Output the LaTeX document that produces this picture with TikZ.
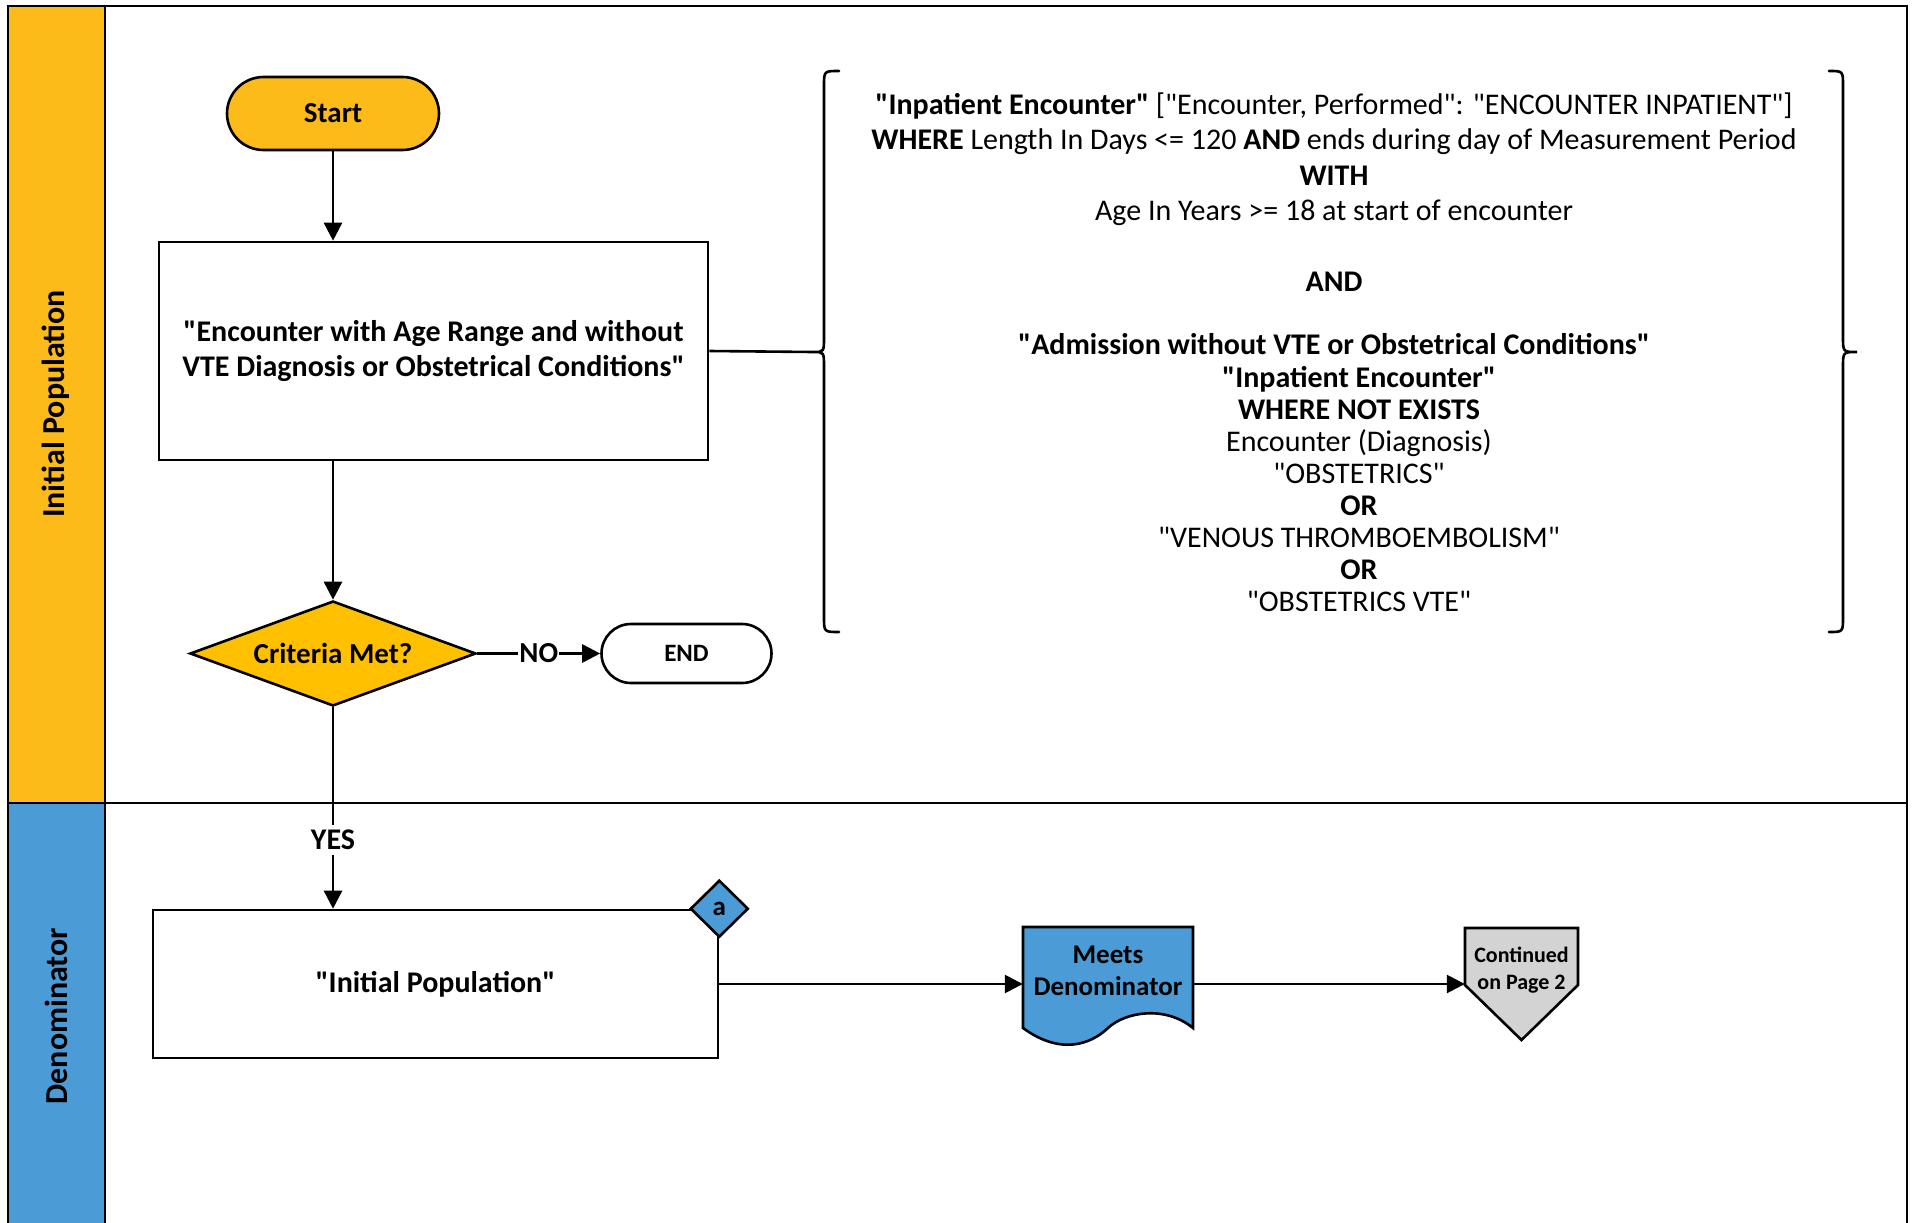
\documentclass[tikz,border=0pt]{standalone}
\usepackage{fontspec}
\setmainfont{Carlito}[Ligatures=TeXOff]
\usetikzlibrary{shapes.geometric,arrows.meta}
\definecolor{laneorange}{HTML}{FDBB19}
\definecolor{decyellow}{HTML}{FFC000}
\definecolor{laneblue}{HTML}{4A9BD6}
\definecolor{pagegray}{HTML}{D3D3D3}
\tikzset{
  flow/.style = {align=center, inner sep=1pt, text centered, font=\fontsize{29}{35.5}\selectfont\bfseries},
  terminal/.style = {flow, draw=black, line width=2.6pt},
  procbox/.style = {flow, rectangle, draw=black, fill=white, line width=2.6pt, font=\fontsize{30}{35.5}\selectfont\bfseries},
  decision/.style = {flow, diamond, aspect=2.72, draw=black, fill=decyellow, line width=2.6pt, inner sep=0pt, minimum width=286, minimum height=105},
  tagnode/.style = {flow, diamond, draw=black, fill=laneblue, line width=2.6pt, inner sep=0pt, minimum width=58, minimum height=57, font=\fontsize{27}{30}\selectfont\bfseries},
  lanelabel/.style = {flow, rotate=90, font=\fontsize{32}{36}\selectfont\bfseries},
  cond/.style = {align=center, inner sep=0pt, font=\fontsize{30}{35.5}\selectfont},
  line/.style = {draw=black, line width=2.6pt},
  arrow/.style = {line, -{Triangle[length=18pt,width=18pt]}},
  brace/.style = {line, line cap=round}
}

\begin{document}
\begin{tikzpicture}[x=1pt,y=-1pt]
\useasboundingbox (0,0) rectangle (1914,1223);
% swim lanes
\fill[laneorange] (8,6) rectangle (105,803);
\fill[laneblue] (8,803) rectangle (105,1240);
\draw[line] (8,1240) -- (8,6) -- (1907,6) -- (1907,1240);
\draw[line] (105,6) -- (105,1240);
\draw[line] (8,803) -- (1907,803);
\node[lanelabel] (lip) at (56,404) {Initial Population};
\node[lanelabel] (lden) at (56,1016) {Denominator};

% shapes drawn under their text
\draw[line, fill=laneblue] (1023,927) -- (1193,927) -- (1193,1028)
  .. controls (1165,1005) and (1125,1012) .. (1108,1028)
  .. controls (1090,1045) and (1060,1055) .. (1023,1028) -- cycle;
\draw[line, fill=pagegray] (1465,928) -- (1578,928) -- (1578,985) -- (1521.5,1040) -- (1465,985) -- cycle;

% initial population lane
\node[terminal, fill=laneorange, minimum width=212, minimum height=73, rounded corners=36.5] (start) at (333,113.5) {Start};
\node[procbox, minimum width=549, minimum height=218] (enc) at (433.5,351)
  {"Encounter with Age Range and without\\VTE Diagnosis or Obstetrical Conditions"};
\node[decision] (crit) at (333,653.5) {Criteria Met?};
\node[terminal, fill=white, minimum width=170, minimum height=59, rounded corners=29.5,
  font=\fontsize{25}{28}\selectfont\bfseries] (end) at (686.5,653.5) {END};

\node[cond] (incl) at (1334,224)
  {\textbf{"Inpatient Encounter"} ["Encounter, Performed": "ENCOUNTER INPATIENT"]\\
   \textbf{WHERE} Length In Days <= 120 \textbf{AND} ends during day of Measurement Period\\
   \textbf{WITH}\\
   Age In Years >= 18 at start of encounter\\[35.5pt]
   \textbf{AND}\\[27.5pt]
   \textbf{"Admission without VTE or Obstetrical Conditions"}};
\node[cond, font=\fontsize{30}{32}\selectfont] (notex) at (1359,489)
  {\textbf{"Inpatient Encounter"}\\
   \textbf{WHERE NOT EXISTS}\\
   Encounter (Diagnosis)\\
   "OBSTETRICS"\\
   \textbf{OR}\\
   "VENOUS THROMBOEMBOLISM"\\
   \textbf{OR}\\
   "OBSTETRICS VTE"};

% braces
\coordinate (ltip) at (813,352);
\coordinate (rtip) at (1857,352);
\draw[brace] (839,71) .. controls (824,71) .. (824,86) -- (824,337)
  .. controls (824,352) .. (ltip) .. controls (824,352) .. (824,367)
  -- (824,617) .. controls (824,632) .. (839,632);
\draw[brace] (1829,71) .. controls (1843,71) .. (1843,86) -- (1843,337)
  .. controls (1843,352) .. (rtip) .. controls (1843,352) .. (1843,367)
  -- (1843,617) .. controls (1843,632) .. (1829,632);

% denominator lane
\node[procbox, minimum width=565, minimum height=148] (init) at (435.5,984) {"Initial Population"};
\node[tagnode] (tag) at (init.north east) {a};
\node[flow, minimum width=170, minimum height=88, font=\fontsize{27}{32}\selectfont\bfseries] (meets) at (1108,971) {Meets\\Denominator};
\node[flow, minimum width=113, minimum height=84, font=\fontsize{22}{27}\selectfont\bfseries] (cont) at (1521.5,970) {Continued\\on Page 2};

% connectors
\draw[arrow] (start.south) -- (start.south |- enc.north);
\draw[line] (enc.east) -- (ltip);
\draw[arrow] (crit.north |- enc.south) -- (crit.north);
\draw[arrow] (crit.east) -- node[flow, fill=white] {NO} (end.west);
\draw[arrow] (crit.south) -- node[flow, pos=0.66, fill=white, inner sep=5pt, font=\fontsize{30}{32}\selectfont\bfseries] {YES} (crit.south |- init.north);
\draw[arrow] (init.east) -- (meets.west |- init.east);
\draw[arrow] (meets.east |- init.east) -- (cont.west |- init.east);
\end{tikzpicture}
\end{document}
